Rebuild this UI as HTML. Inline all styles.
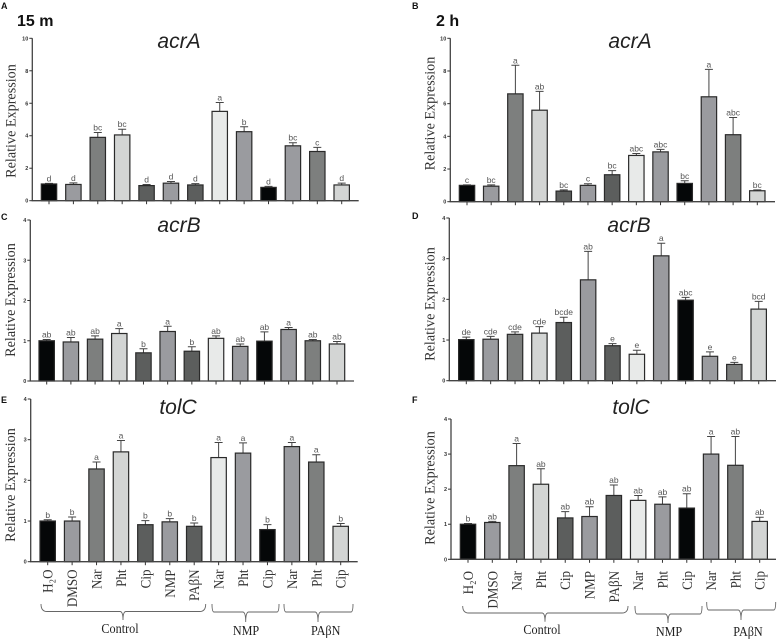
<!DOCTYPE html>
<html lang="en">
<head>
<meta charset="utf-8">
<title>Relative expression of acrA, acrB and tolC</title>
<style>
html,body{margin:0;padding:0;background:#fff;width:777px;height:639px;overflow:hidden}
svg{display:block;filter:blur(0.3px)}
.tick{font:bold 5.5px "Liberation Sans",sans-serif;fill:#333}
.sig{font:8.5px "Liberation Sans",sans-serif;fill:#555}
.ytitle{font:15px "Liberation Serif",serif;fill:#333}
.cat{font:15px "Liberation Serif",serif;fill:#333}
.group{font:14px "Liberation Serif",serif;fill:#222}
.gene{font:italic 21px "Liberation Sans",sans-serif;fill:#222}
.plabel{font:bold 9px "Liberation Sans",sans-serif;fill:#111}
.time{font:bold 16px "Liberation Sans",sans-serif;fill:#111}
</style>
</head>
<body>
<svg id="fig" xmlns="http://www.w3.org/2000/svg" width="777" height="639" viewBox="0 0 777 639">
  <text class="time" x="17" y="26">15 m</text>
  <text class="time" x="436" y="26">2 h</text>
</svg>
<script>
const categories = ["H₂O","DMSO","Nar","Pht","Cip","NMP","PAβN","Nar","Pht","Cip","Nar","Pht","Cip"];
const ticksA = [0,2,4,6,8,10];
const ticksSmall = [0,1,2,3,4];

const valuesA = [1.03,1.0,3.9,4.05,0.93,1.08,0.97,5.5,4.25,0.82,3.38,3.03,0.97];
const errTopA = [1.07,1.1,4.2,4.4,1.0,1.18,1.05,6.05,4.55,0.88,3.57,3.28,1.08];
const sigA = ["d","d","bc","bc","d","d","d","a","b","d","bc","c","d"];

const valuesB = [1.0,0.95,6.6,5.6,0.65,1.0,1.65,2.83,3.05,1.12,6.42,4.1,0.67];
const errTopB = [1.03,1.03,8.35,6.75,0.72,1.1,1.9,2.95,3.2,1.28,8.1,5.15,0.72];
const sigB = ["c","bc","a","ab","bc","c","bc","abc","abc","bc","a","abc","bc"];

const valuesC = [1.0,0.97,1.04,1.18,0.7,1.23,0.74,1.06,0.86,0.99,1.28,1.0,0.92];
const errTopC = [1.03,1.08,1.12,1.3,0.8,1.36,0.85,1.12,0.92,1.22,1.33,1.03,0.98];
const sigC = ["ab","ab","ab","a","b","a","b","ab","ab","ab","a","ab","ab"];

const valuesD = [1.01,1.02,1.14,1.17,1.43,2.48,0.86,0.65,3.07,1.98,0.6,0.4,1.76];
const errTopD = [1.07,1.09,1.2,1.33,1.56,3.18,0.91,0.75,3.38,2.05,0.71,0.45,1.95];
const sigD = ["de","cde","cde","cde","bcde","ab","e","e","a","abc","e","e","bcd"];

const valuesE = [1.0,1.0,2.28,2.7,0.91,0.98,0.87,2.56,2.67,0.79,2.83,2.45,0.87];
const errTopE = [1.03,1.1,2.45,2.98,1.01,1.06,0.95,2.93,2.92,0.91,2.93,2.63,0.94];
const sigE = ["b","b","a","a","b","b","b","a","a","b","a","a","b"];

const valuesF = [1.0,1.05,2.67,2.14,1.18,1.22,1.82,1.68,1.57,1.46,3.0,2.68,1.08];
const errTopF = [1.02,1.08,3.3,2.58,1.36,1.5,2.12,1.82,1.78,1.87,3.5,3.5,1.2];
const sigF = ["b","ab","a","ab","ab","ab","ab","ab","ab","ab","a","ab","ab"];

const barFills = ["#050708","#9a9b9f","#7d7f7e","#d3d5d4","#5c5e5d","#9a9b9f","#5c5e5d","#e8eae9","#9a9b9f","#050708","#9a9b9f","#7d7f7e","#d3d5d4"];

const panels = [
  {id:"a",gene:"acrA",values:valuesA,err:errTopA,sig:sigA,ticks:ticksA,ax:32.3,y0:200.7,yTop:38.3,first:49,last:341.7,xEnd:358.7,letter:"A",lx:1,ly:9,tx:179,ty:48,yx:15.5,yy:121},
  {id:"b",gene:"acrA",values:valuesB,err:errTopB,sig:sigB,ticks:ticksA,ax:450.3,y0:201.7,yTop:38.3,first:467,last:757.3,xEnd:775,letter:"B",lx:412,ly:9,tx:630,ty:48,yx:434.5,yy:113.5},
  {id:"c",gene:"acrB",values:valuesC,err:errTopC,sig:sigC,ticks:ticksSmall,ax:30.3,y0:381,yTop:220,first:46.7,last:337,xEnd:354,letter:"C",lx:1,ly:220,tx:179,ty:232,yx:15,yy:300},
  {id:"d",gene:"acrB",values:valuesD,err:errTopD,sig:sigD,ticks:ticksSmall,ax:449.3,y0:380.7,yTop:218,first:466.3,last:758.7,xEnd:776,letter:"D",lx:412,ly:219,tx:629,ty:232,yx:434.5,yy:304},
  {id:"e",gene:"tolC",values:valuesE,err:errTopE,sig:sigE,ticks:ticksSmall,ax:30.7,y0:561.7,yTop:399,first:47.7,last:340.7,xEnd:357.7,letter:"E",lx:1,ly:403,tx:178,ty:414,yx:15,yy:485,catY:569.5,cats:true},
  {id:"f",gene:"tolC",values:valuesF,err:errTopF,sig:sigF,ticks:ticksSmall,ax:451,y0:559.3,yTop:419,first:468,last:759.7,xEnd:776,letter:"F",lx:412,ly:403,tx:631,ty:414,yx:434.5,yy:488,catY:571,cats:true}
];

const braces = [
  {name:"control",text:"Control",x1:41,x2:205.7,mid:123,top:604,bot:611.5,end:620,lx:120,ly:633,curly:true},
  {name:"nmp",text:"NMP",x1:212,x2:279,mid:245.7,top:604,bot:612,end:622,lx:246,ly:635},
  {name:"pabn",text:"PAβN",x1:284,x2:353,mid:318,top:604,bot:612,end:622,lx:325.7,ly:635},
  {name:"control-2h",text:"Control",x1:462.7,x2:628,mid:545,top:606,bot:613,end:621.7,lx:542,ly:634,curly:true},
  {name:"nmp-2h",text:"NMP",x1:635,x2:702,mid:668,top:606,bot:614,end:623,lx:669,ly:636},
  {name:"pabn-2h",text:"PAβN",x1:706.7,x2:775.7,mid:741,top:602,bot:610,end:620,lx:748,ly:636}
];

const NS = "http://www.w3.org/2000/svg";
const root = document.getElementById("fig");
function mk(tag, attrs, parent, txt) {
  const n = document.createElementNS(NS, tag);
  for (const k in attrs) n.setAttribute(k, attrs[k]);
  if (txt !== undefined) n.textContent = txt;
  (parent || root).appendChild(n);
  return n;
}

panels.forEach(function (p) {
  const g = mk("g", {});
  
  
  const tickMax = p.ticks[p.ticks.length - 1];
  const yScale = function (v) { return p.y0 - (v / tickMax) * (p.y0 - p.yTop); };
  const xScale = function (i) { return p.first + i * (p.last - p.first) / (p.values.length - 1); };

  const letter = mk("text", {class:"plabel", x:p.lx, y:p.ly}, g, p.letter);
  
  

  const gene = mk("text", {class:"gene", x:p.tx, y:p.ty, "text-anchor":"middle"}, g, p.gene);
  
  

  const yt = mk("text", {class:"ytitle", "text-anchor":"middle", transform:"translate(" + p.yx + " " + p.yy + ") rotate(-90) scale(0.945 1)"}, g, "Relative Expression");
  
  

  p.values.forEach(function (v, i) {
    const cx = xScale(i);
    const err = mk("path", {d:"M" + cx + " " + yScale(v) + "V" + yScale(p.err[i]) + "M" + (cx - 4) + " " + yScale(p.err[i]) + "H" + (cx + 4), stroke:"#444", "stroke-width":1, fill:"none"}, g);
    
    

    const bar = mk("rect", {x:cx - 7.7, y:yScale(v), width:15.4, height:p.y0 - yScale(v), fill:barFills[i], stroke:"#2a2a2a", "stroke-width":1.2}, g);
    
    

    const sig = mk("text", {class:"sig", x:cx, y:yScale(p.err[i]) - 2, "text-anchor":"middle"}, g, p.sig[i]);
    
    

    const xt = mk("line", {x1:cx, x2:cx, y1:p.y0, y2:p.y0 + 3.5, stroke:"#333", "stroke-width":1}, g);
    
    

    if (p.cats) {
      const bx = cx + 5;
      const cat = mk("text", {class:"cat", "text-anchor":"end", transform:"translate(" + bx + " " + p.catY + ") rotate(-90) scale(0.87 1)"}, g, categories[i]);
      
      
    }
  });

  const axes = mk("path", {d:"M" + p.ax + " " + p.yTop + "V" + p.y0 + "H" + p.xEnd, stroke:"#444", "stroke-width":1.3, fill:"none"}, g);
  
  

  p.ticks.forEach(function (t) {
    const yy = yScale(t);
    const tl = mk("line", {x1:p.ax - 3, x2:p.ax, y1:yy, y2:yy, stroke:"#333", "stroke-width":1}, g);
    
    
    const lab = mk("text", {class:"tick", x:p.ax - 4, y:yy + 2, "text-anchor":"end"}, g, t);
    
    
  });
});

braces.forEach(function (b) {
  const r = b.curly ? 6 : 2;
  const d = "M" + b.x1 + " " + b.top + "Q" + b.x1 + " " + b.bot + " " + (b.x1 + r) + " " + b.bot +
    "H" + (b.mid - 3) + "Q" + b.mid + " " + b.bot + " " + b.mid + " " + b.end +
    "Q" + b.mid + " " + b.bot + " " + (b.mid + 3) + " " + b.bot +
    "H" + (b.x2 - r) + "Q" + b.x2 + " " + b.bot + " " + b.x2 + " " + b.top;
  const br = mk("path", {d:d, fill:"none", stroke:"#666", "stroke-width":0.9});
  
  
  const t = mk("text", {class:"group", "text-anchor":"middle", transform:"translate(" + b.lx + " " + b.ly + ") scale(0.87 1)"}, root, b.text);
  
  
});
</script>
</body>
</html>
